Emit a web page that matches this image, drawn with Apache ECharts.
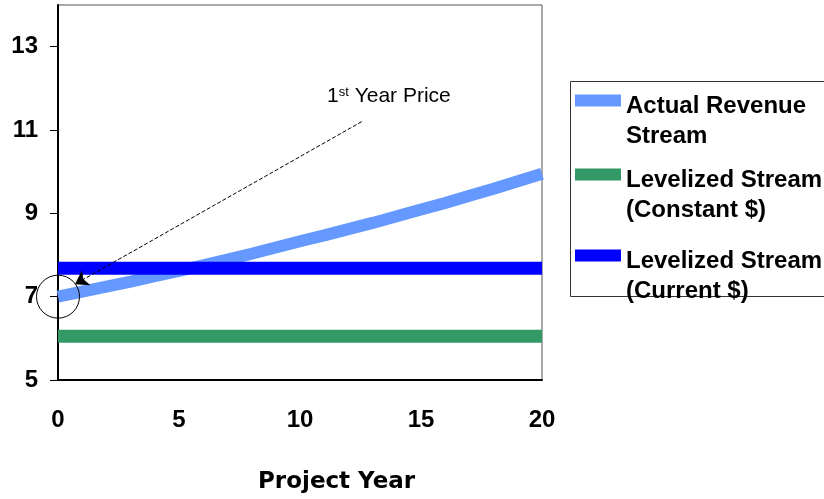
<!DOCTYPE html>
<html>
<head>
<meta charset="utf-8">
<script src="https://cdn.jsdelivr.net/npm/echarts@6/dist/echarts.min.js"></script>
<style>
  html, body { margin: 0; padding: 0; background: #fff; }
  #chart { width: 824px; height: 499px; }
</style>
</head>
<body>
<div id="chart"></div>
<script>
const years = [0, 1, 2, 3, 4, 5, 6, 7, 8, 9, 10, 11, 12, 13, 14, 15, 16, 17, 18, 19, 20];
const actualRevenue = [7.00, 7.12, 7.24, 7.36, 7.49, 7.62, 7.75, 7.89, 8.03, 8.18, 8.33,
                       8.47, 8.62, 8.77, 8.93, 9.09, 9.25, 9.42, 9.59, 9.77, 9.95];
const levelYears = [0, 20];
const constantStream = [6.05, 6.05];
const currentStream = [7.68, 7.68];
const yTicks = [5, 7, 9, 11, 13];
const names = ['Actual Revenue\nStream', 'Levelized Stream\n(Constant $)', 'Levelized Stream\n(Current $)'];

const arial = '"Liberation Sans", Arial, sans-serif';

function pairs(xs, ys) {
    return xs.map((x, i) => [x, ys[i]]);
}

// one legend per entry so the icon sits beside the first text line
function legendBox(name, top) {
    return {
        data: [{ name: name, icon: 'rect' }],
        left: 575,
        top: top,
        orient: 'vertical',
        itemWidth: 46,
        itemHeight: 12,
        selectedMode: false,
        padding: 0,
        formatter: n => '{g| }\n{t|' + n.split('\n').join('}\n{t|') + '}',
        textStyle: {
            color: '#000',
            rich: {
                g: { fontSize: 1, lineHeight: 42 },
                t: { fontFamily: arial, fontWeight: 'bold', fontSize: 24, lineHeight: 30, color: '#000' }
            }
        }
    };
}

const chart = echarts.init(document.getElementById('chart'));
const option = {
    animation: false,
    grid: { left: 58, right: 282, top: 5, bottom: 119, show: true, borderColor: '#555', borderWidth: 1 },
    title: {
        text: 'Project Year', left: 253, top: 466,
        textStyle: { fontFamily: '"DejaVu Sans", sans-serif', fontWeight: 'bold', fontSize: 23, color: '#000' }
    },
    legend: [
        legendBox(names[0], 70),
        legendBox(names[1], 144),
        legendBox(names[2], 225)
    ],
    graphic: [
        { type: 'rect', shape: { x: 570.5, y: 81.5, width: 270, height: 215 }, style: { fill: '#fff', stroke: '#333', lineWidth: 1 }, z: -1 },
        {
            type: 'text', left: 327, top: 86,
            style: {
                text: '{n|1}{s|st}{n| Year Price}',
                rich: {
                    n: { fontFamily: arial, fontSize: 21, fill: '#000' },
                    s: { fontFamily: arial, fontSize: 13, fill: '#000', verticalAlign: 'top', padding: [0, 0, 8, 0] }
                }
            }
        }
    ],
    xAxis: {
        type: 'value', min: 0, max: 20, interval: 5,
        axisLine: { lineStyle: { color: '#000', width: 2 } },
        axisTick: { show: false },
        splitLine: { show: false },
        axisLabel: { margin: 28, color: '#000', fontFamily: arial, fontWeight: 'bold', fontSize: 24 }
    },
    yAxis: {
        type: 'value', min: 5, max: 14,
        axisLine: { show: true, lineStyle: { color: '#000', width: 2 } },
        axisTick: { show: true, length: 8, customValues: yTicks, lineStyle: { color: '#000', width: 1 } },
        splitLine: { show: false },
        axisLabel: { customValues: yTicks, margin: 20, color: '#000', fontFamily: arial, fontWeight: 'bold', fontSize: 24 }
    },
    series: [
        {
            name: names[1], type: 'line', data: pairs(levelYears, constantStream),
            showSymbol: false, color: '#339966', lineStyle: { width: 13, color: '#339966' }
        },
        {
            name: names[0], type: 'line', data: pairs(years, actualRevenue),
            showSymbol: false, color: '#6699FF', lineStyle: { width: 12, color: '#6699FF' },
            markPoint: {
                silent: true,
                symbol: 'circle', symbolSize: 43,
                itemStyle: { color: 'rgba(0,0,0,0)', borderColor: '#000', borderWidth: 1 },
                label: { show: false },
                data: [{ coord: [0, 7] }]
            }
        },
        {
            name: names[2], type: 'line', data: pairs(levelYears, currentStream),
            showSymbol: false, color: '#0000FF', lineStyle: { width: 13, color: '#0000FF' },
            markLine: {
                silent: true,
                symbol: ['none', 'arrow'], symbolSize: 13,
                label: { show: false },
                lineStyle: { type: 'dashed', color: '#000', width: 1 },
                data: [[{ coord: [12.55, 11.2] }, { coord: [0.7, 7.3] }]]
            }
        }
    ]
};
chart.setOption(option);
</script>
</body>
</html>
